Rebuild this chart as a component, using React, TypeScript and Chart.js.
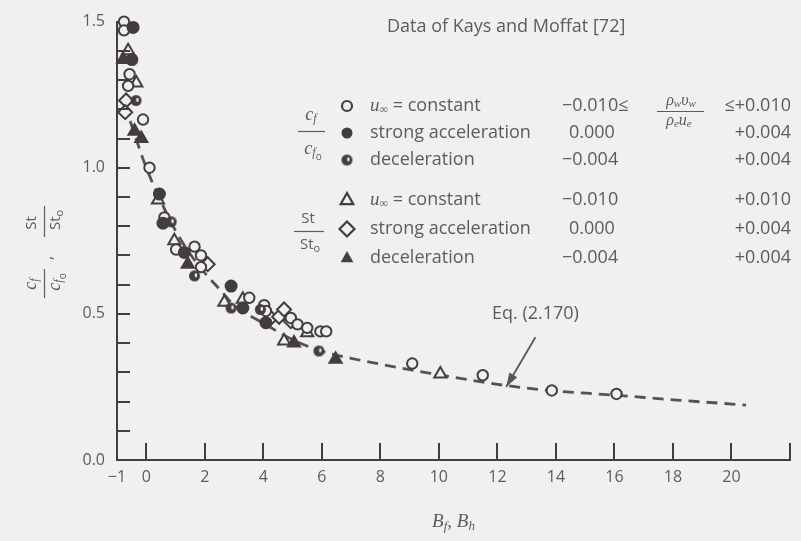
import React, { useEffect, useRef } from "react";
import { Chart, registerables } from "chart.js";

Chart.register(...registerables);

// ---------- data ----------
// c_f / c_f0, u_inf = constant (open circles)
const cfConstant: [number, number][] = [
  [-0.76, 1.5], [-0.76, 1.47], [-0.57, 1.32], [-0.62, 1.28], [-0.11, 1.165],
  [0.11, 1.0], [0.62, 0.83], [1.02, 0.72], [1.65, 0.73], [1.87, 0.7],
  [1.87, 0.66], [3.52, 0.555], [4.03, 0.53], [4.09, 0.51], [4.94, 0.486],
  [5.17, 0.464], [5.5, 0.452], [5.95, 0.44], [6.15, 0.44], [9.09, 0.33],
  [11.5, 0.29], [13.86, 0.238], [16.07, 0.226],
];
// c_f / c_f0, strong acceleration (filled circles)
const cfStrongAccel: [number, number][] = [
  [-0.45, 1.48], [-0.49, 1.37], [0.45, 0.91], [0.57, 0.81], [1.3, 0.71],
  [2.9, 0.595], [3.3, 0.52], [4.09, 0.47],
];
// c_f / c_f0, deceleration (half-filled circles)
const cfDecel: [number, number][] = [
  [-0.35, 1.23], [0.85, 0.815], [1.65, 0.63], [2.9, 0.52], [3.9, 0.515], [5.9, 0.373],
];
// St / St0, u_inf = constant (open triangles)
const stConstant: [number, number][] = [
  [-0.62, 1.4], [-0.34, 1.29], [0.4, 0.89], [0.96, 0.75], [2.67, 0.54],
  [3.3, 0.55], [4.71, 0.407], [5.5, 0.435], [10.05, 0.294],
];
// St / St0, strong acceleration (open diamonds)
const stStrongAccel: [number, number][] = [
  [-0.69, 1.23], [-0.72, 1.19], [2.1, 0.67], [4.26, 0.486], [4.54, 0.49],
  [4.71, 0.515], [4.94, 0.475],
];
// St / St0, deceleration (filled triangles)
const stDecel: [number, number][] = [
  [-0.79, 1.37], [-0.4, 1.125], [-0.17, 1.1], [1.42, 0.67], [5.05, 0.4], [6.47, 0.345],
];
// Eq. (2.170) dashed curve
const curveX = [-0.55, -0.25, 0, 0.5, 1, 1.5, 2, 2.5, 3, 4, 5, 6, 7, 8, 9, 10, 11, 12, 13, 14, 16, 18, 20.5];
const curveY = [1.16, 1.07, 1.0, 0.885, 0.785, 0.705, 0.64, 0.585, 0.53, 0.468, 0.412, 0.372, 0.348, 0.328, 0.309, 0.292, 0.275, 0.259, 0.246, 0.236, 0.222, 0.206, 0.188];

// axes
const xMin = -1;
const xMax = 22;
const yMin = 0;
const yMax = 1.5;
const xTickLabels = [-1, 0, 2, 4, 6, 8, 10, 12, 14, 16, 18, 20];
const xTickMarks = [0, 2, 4, 6, 8, 10, 12, 14, 16, 18, 20, 22];
const yTickLabels = [0, 0.5, 1.0, 1.5];
const yTickMarks = [0.1, 0.2, 0.3, 0.4, 0.5, 0.6, 0.7, 0.8, 0.9, 1.0, 1.1, 1.2, 1.3, 1.4];

// legend text
const titleText = "Data of Kays and Moffat [72]";
const legendLabels = ["= constant", "strong acceleration", "deceleration", "= constant", "strong acceleration", "deceleration"];
const legendLow = ["\u22120.010\u2264", "0.000", "\u22120.004", "\u22120.010", "0.000", "\u22120.004"];
const legendHigh = ["\u2264+0.010", "+0.004", "+0.004", "+0.010", "+0.004", "+0.004"];
const eqLabel = "Eq. (2.170)";
const eqArrowFrom = [13.3, 0.42];
const eqArrowTo = [12.3, 0.25];
const eqLabelAt = [13.3, 0.5];

// ---------- styles ----------
const BG = "#f0f0ee";
const INK = "#433d3f";
const TEXT = "#5f5b5c";
const SANS = "'Open Sans', 'DejaVu Sans', sans-serif";
const SERIF = "'Liberation Serif', 'DejaVu Serif', serif";
const LF = `18px ${SANS}`;

function decelCanvas(r: number): HTMLCanvasElement {
  const c = document.createElement("canvas");
  const s = Math.ceil(r * 2 + 4);
  c.width = s;
  c.height = s;
  const g = c.getContext("2d")!;
  const m = s / 2;
  g.fillStyle = INK;
  g.beginPath();
  g.arc(m, m, r, 0, Math.PI * 2);
  g.fill();
  g.fillStyle = "#f4f4f2";
  g.beginPath();
  g.ellipse(m + r * 0.25, m - r * 0.1, r * 0.22, r * 0.38, 0, 0, Math.PI * 2);
  g.fill();
  return c;
}

type Seg = { t: string; f: string; dy?: number };
function measureSegs(ctx: CanvasRenderingContext2D, segs: Seg[]) {
  let w = 0;
  for (const s of segs) {
    ctx.font = s.f;
    w += ctx.measureText(s.t).width;
  }
  return w;
}
function drawSegs(ctx: CanvasRenderingContext2D, segs: Seg[], x: number, y: number, align: "left" | "center" | "right") {
  const w = measureSegs(ctx, segs);
  let cx = align === "left" ? x : align === "center" ? x - w / 2 : x - w;
  ctx.textAlign = "left";
  ctx.textBaseline = "middle";
  for (const s of segs) {
    ctx.font = s.f;
    ctx.fillText(s.t, cx, y + (s.dy || 0));
    cx += ctx.measureText(s.t).width;
  }
}

function drawSymbol(ctx: CanvasRenderingContext2D, kind: number, x: number, y: number) {
  ctx.save();
  ctx.strokeStyle = INK;
  ctx.fillStyle = INK;
  ctx.lineWidth = 2.2;
  if (kind === 0) {
    ctx.beginPath();
    ctx.arc(x, y, 5, 0, Math.PI * 2);
    ctx.stroke();
  } else if (kind === 1) {
    ctx.beginPath();
    ctx.arc(x, y, 5.5, 0, Math.PI * 2);
    ctx.fill();
  } else if (kind === 2) {
    const c = decelCanvas(5.5);
    ctx.drawImage(c, x - c.width / 2, y - c.height / 2);
  } else if (kind === 3 || kind === 5) {
    const r = 7;
    ctx.beginPath();
    ctx.moveTo(x, y - r);
    ctx.lineTo(x + r * 0.9, y + r * 0.6);
    ctx.lineTo(x - r * 0.9, y + r * 0.6);
    ctx.closePath();
    if (kind === 3) ctx.stroke();
    else ctx.fill();
  } else if (kind === 4) {
    const r = 7.5;
    ctx.beginPath();
    ctx.moveTo(x, y - r);
    ctx.lineTo(x + r, y);
    ctx.lineTo(x, y + r);
    ctx.lineTo(x - r, y);
    ctx.closePath();
    ctx.stroke();
  }
  ctx.restore();
}

const decor = {
  id: "decor",
  afterDraw(chart: any) {
    const ctx: CanvasRenderingContext2D = chart.ctx;
    const xs = chart.scales.x;
    const ys = chart.scales.y;
    const area = chart.chartArea;
    ctx.save();
    // inward tick marks
    ctx.strokeStyle = INK;
    ctx.lineWidth = 2;
    for (const v of xTickMarks) {
      const px = Math.round(xs.getPixelForValue(v));
      ctx.beginPath();
      ctx.moveTo(px, area.bottom);
      ctx.lineTo(px, area.bottom - 17);
      ctx.stroke();
    }
    for (const v of yTickMarks) {
      const py = Math.round(ys.getPixelForValue(v));
      ctx.beginPath();
      ctx.moveTo(area.left, py);
      ctx.lineTo(area.left + 13, py);
      ctx.stroke();
    }

    // x title  B_f, B_h
    ctx.fillStyle = TEXT;
    const big = `italic 19px ${SERIF}`;
    const sub = `italic 13px ${SERIF}`;
    drawSegs(ctx, [
      { t: "B", f: big }, { t: "f", f: sub, dy: 5 }, { t: ", ", f: `19px ${SERIF}` },
      { t: "B", f: big }, { t: "h", f: sub, dy: 5 },
    ], (area.left + area.right) / 2, 522, "center");

    // y title (rotated fractions)
    ctx.save();
    ctx.translate(44, 253);
    ctx.rotate(-Math.PI / 2);
    const cNum: Seg[] = [{ t: "c", f: `italic 18px ${SERIF}` }, { t: "f", f: `italic 12px ${SERIF}`, dy: 4 }];
    const cDen: Seg[] = [{ t: "c", f: `italic 18px ${SERIF}` }, { t: "f", f: `italic 12px ${SERIF}`, dy: 4 }, { t: "o", f: `10px ${SANS}`, dy: 8 }];
    const sNum: Seg[] = [{ t: "St", f: `15px ${SANS}` }];
    const sDen: Seg[] = [{ t: "St", f: `15px ${SANS}` }, { t: "o", f: `11px ${SANS}`, dy: 4 }];
    ctx.fillStyle = TEXT;
    ctx.strokeStyle = TEXT;
    ctx.lineWidth = 1.2;
    drawSegs(ctx, cNum, -31, -13, "center");
    drawSegs(ctx, cDen, -29, 11, "center");
    ctx.beginPath(); ctx.moveTo(-45, 0.5); ctx.lineTo(-16, 0.5); ctx.stroke();
    drawSegs(ctx, [{ t: ",", f: `16px ${SANS}` }], -5, 3, "center");
    drawSegs(ctx, sNum, 30, -12, "center");
    drawSegs(ctx, sDen, 33, 12, "center");
    ctx.beginPath(); ctx.moveTo(16, 0.5); ctx.lineTo(47, 0.5); ctx.stroke();
    ctx.restore();

    // legend
    ctx.fillStyle = TEXT;
    drawSegs(ctx, [{ t: titleText, f: LF }], 387, 27, "left");

    const rowsY = [106, 133, 160, 200, 229, 258];
    const symX = 347;
    const txtX = 370;
    for (let i = 0; i < 6; i++) {
      const y = rowsY[i];
      drawSymbol(ctx, i, symX, y);
      ctx.fillStyle = TEXT;
      if (i === 0 || i === 3) {
        drawSegs(ctx, [
          { t: "u", f: `italic 19px ${SERIF}` },
          { t: "\u221e", f: `12px ${SERIF}`, dy: 4 },
          { t: " " + legendLabels[i], f: LF },
        ], txtX, y, "left");
      } else {
        drawSegs(ctx, [{ t: legendLabels[i], f: LF }], txtX, y, "left");
      }
      const low = legendLow[i];
      drawSegs(ctx, [{ t: low, f: LF }], low.startsWith("0") ? 569 : 562, y, "left");
      drawSegs(ctx, [{ t: legendHigh[i], f: LF }], 791, y, "right");
    }
    // rho_w v_w / rho_e u_e
    const gi = `italic 16px ${SERIF}`;
    const gs = `italic 11px ${SERIF}`;
    drawSegs(ctx, [{ t: "\u03c1", f: gi }, { t: "w", f: gs, dy: 3 }, { t: "\u03c5", f: gi }, { t: "w", f: gs, dy: 3 }], 681, 101, "center");
    drawSegs(ctx, [{ t: "\u03c1", f: gi }, { t: "e", f: gs, dy: 3 }, { t: "u", f: gi }, { t: "e", f: gs, dy: 3 }], 679, 121, "center");
    ctx.strokeStyle = TEXT;
    ctx.lineWidth = 1.2;
    ctx.beginPath(); ctx.moveTo(657, 111.5); ctx.lineTo(704, 111.5); ctx.stroke();

    // c_f / c_f0
    drawSegs(ctx, [{ t: "c", f: `italic 18px ${SERIF}` }, { t: "f", f: `italic 12px ${SERIF}`, dy: 4 }], 311, 115, "center");
    drawSegs(ctx, [{ t: "c", f: `italic 18px ${SERIF}` }, { t: "f", f: `italic 12px ${SERIF}`, dy: 4 }, { t: "o", f: `10px ${SANS}`, dy: 8 }], 313, 149, "center");
    ctx.beginPath(); ctx.moveTo(298, 131.5); ctx.lineTo(325, 131.5); ctx.stroke();
    // St / St0
    drawSegs(ctx, [{ t: "St", f: `15px ${SANS}` }], 308, 219, "center");
    drawSegs(ctx, [{ t: "St", f: `15px ${SANS}` }, { t: "o", f: `11px ${SANS}`, dy: 4 }], 310, 245, "center");
    ctx.beginPath(); ctx.moveTo(294, 231.5); ctx.lineTo(324, 231.5); ctx.stroke();

    // annotation
    const ax0 = xs.getPixelForValue(eqArrowFrom[0]);
    const ay0 = ys.getPixelForValue(eqArrowFrom[1]);
    const ax1 = xs.getPixelForValue(eqArrowTo[0]);
    const ay1 = ys.getPixelForValue(eqArrowTo[1]);
    ctx.strokeStyle = "#5a5556";
    ctx.fillStyle = "#5a5556";
    ctx.lineWidth = 1.8;
    ctx.beginPath(); ctx.moveTo(ax0, ay0); ctx.lineTo(ax1, ay1); ctx.stroke();
    const ang = Math.atan2(ay1 - ay0, ax1 - ax0);
    const hl = 14, hw = 4.5;
    ctx.beginPath();
    ctx.moveTo(ax1, ay1);
    ctx.lineTo(ax1 - hl * Math.cos(ang) + hw * Math.sin(ang), ay1 - hl * Math.sin(ang) - hw * Math.cos(ang));
    ctx.lineTo(ax1 - hl * Math.cos(ang) - hw * Math.sin(ang), ay1 - hl * Math.sin(ang) + hw * Math.cos(ang));
    ctx.closePath();
    ctx.fill();
    ctx.fillStyle = TEXT;
    drawSegs(ctx, [{ t: eqLabel, f: LF }], xs.getPixelForValue(eqLabelAt[0]), ys.getPixelForValue(eqLabelAt[1]), "center");
    ctx.restore();
  },
};

const toPts = (a: [number, number][]) => a.map(([x, y]) => ({ x, y }));

export default function App() {
  const ref = useRef<HTMLCanvasElement | null>(null);
  useEffect(() => {
    document.body.style.margin = "0";
    document.body.style.background = BG;
    const canvas = ref.current!;
    const decel = decelCanvas(5.5);
    const common = { showLine: false, clip: false as any, borderColor: INK, borderWidth: 2 };
    const chart = new Chart(canvas, {
      type: "scatter",
      data: {
        datasets: [
          { ...common, data: toPts(cfStrongAccel), pointStyle: "circle", pointRadius: 5.5, backgroundColor: INK },
          { ...common, data: toPts(stDecel), pointStyle: "triangle", pointRadius: 7, backgroundColor: INK },
          { ...common, data: toPts(cfDecel), pointStyle: decel as any, pointRadius: 5.5, backgroundColor: INK },
          { ...common, data: toPts(cfConstant), pointStyle: "circle", pointRadius: 5.2, backgroundColor: BG },
          { ...common, data: toPts(stConstant), pointStyle: "triangle", pointRadius: 7, backgroundColor: BG },
          { ...common, data: toPts(stStrongAccel), pointStyle: "rectRot", pointRadius: 7, backgroundColor: BG },
          {
            data: curveX.map((x, i) => ({ x, y: curveY[i] })),
            showLine: true,
            pointRadius: 0,
            borderColor: "#575254",
            borderWidth: 2.8,
            borderDash: [11, 7],
            cubicInterpolationMode: "monotone",
            clip: false as any,
          } as any,
        ],
      },
      options: {
        animation: false,
        responsive: false,
        devicePixelRatio: 1,
        layout: { padding: { left: 0, right: 11, top: 18, bottom: 0 } },
        plugins: { legend: { display: false }, tooltip: { enabled: false } },
        scales: {
          x: {
            type: "linear",
            min: xMin,
            max: xMax,
            grid: { display: false, drawTicks: false },
            border: { display: true, color: INK, width: 2 },
            ticks: {
              color: TEXT,
              font: { family: SANS, size: 16 },
              padding: 8,
              maxRotation: 0,
              autoSkip: false,
              callback: (v: any) => (v < 0 ? "\u2212" + Math.abs(v) : String(v)),
            },
            afterBuildTicks: (s: any) => { s.ticks = xTickLabels.map((v) => ({ value: v })); },
            afterFit: (s: any) => { s.height = 81; },
          },
          y: {
            type: "linear",
            min: yMin,
            max: yMax,
            grid: { display: false, drawTicks: false },
            border: { display: true, color: INK, width: 2 },
            ticks: {
              color: TEXT,
              font: { family: SANS, size: 16 },
              padding: 12,
              autoSkip: false,
              callback: (v: any) => Number(v).toFixed(1),
            },
            afterBuildTicks: (s: any) => { s.ticks = yTickLabels.map((v) => ({ value: v })); },
            afterFit: (s: any) => { s.width = 117; },
          },
        },
      } as any,
      plugins: [decor],
    });
    return () => chart.destroy();
  }, []);
  return (
    <div style={{ width: 801, height: 541, background: BG }}>
      <canvas ref={ref} width={801} height={541} style={{ display: "block" }} />
    </div>
  );
}
